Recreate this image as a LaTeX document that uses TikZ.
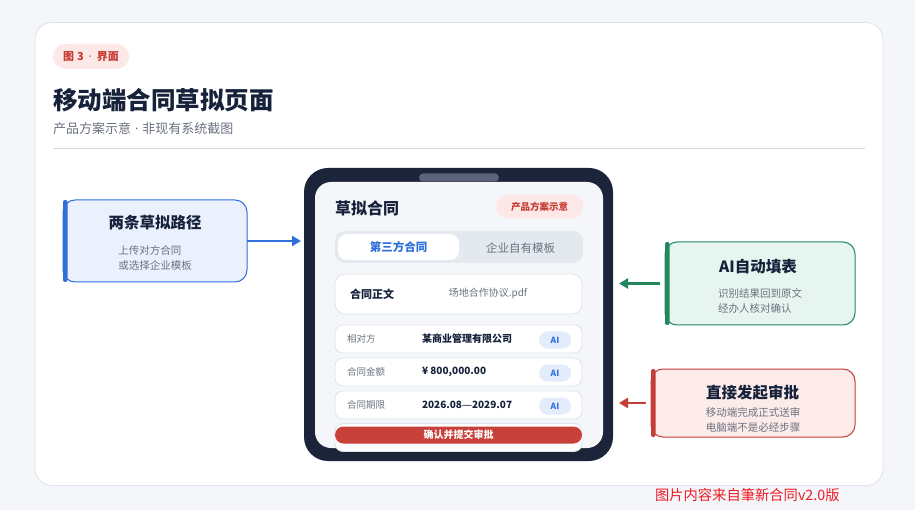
\documentclass[tikz,border=0pt]{standalone}
\usepackage{fontspec}
\setmainfont{Noto Sans CJK SC}
\newfontfamily\latinf{Noto Sans}
\usetikzlibrary{arrows.meta}
\definecolor{bgc}{HTML}{F4F6FA}
\definecolor{cardline}{HTML}{DDE3EC}
\definecolor{navy}{HTML}{16213A}
\definecolor{graytxt}{HTML}{6B7280}
\definecolor{tagfill}{HTML}{FCE8E6}
\definecolor{tagred}{HTML}{C73B32}
\definecolor{blueM}{HTML}{2F6FDB}
\definecolor{blueF}{HTML}{EAF1FD}
\definecolor{greenM}{HTML}{23875E}
\definecolor{greenF}{HTML}{E6F5EF}
\definecolor{redM}{HTML}{C43D37}
\definecolor{redF}{HTML}{FDEBEA}
\definecolor{phonec}{HTML}{1B2438}
\definecolor{screenc}{HTML}{F4F6FA}
\definecolor{notchc}{HTML}{5B6478}
\definecolor{tabbar}{HTML}{E4E8EF}
\definecolor{rowline}{HTML}{DFE4EC}
\definecolor{aifill}{HTML}{E3ECFA}
\definecolor{btnc}{HTML}{C8403A}
\definecolor{footred}{HTML}{EE1C25}
\definecolor{sepc}{HTML}{D5DBE4}
\newcommand\myfs[2]{\fontsize{#1pt}{#2pt}\selectfont}
\newcommand\mdot{{\latinf\textperiodcentered}}
\tikzset{
  plain/.style={inner sep=0pt, outer sep=0pt},
  shapebox/.style={rectangle, inner sep=0pt, outer sep=0pt},
  pill/.style={shapebox, fill=tagfill, text=tagred, font=\bfseries\myfs{9.5}{11}},
  rowcard/.style={shapebox, fill=white, draw=rowline, line width=0.8pt, rounded corners=8pt, minimum width=247pt, minimum height=28pt},
  rowlabel/.style={plain, anchor=west, text=graytxt, font=\myfs{9.5}{11}},
  rowvalue/.style={plain, anchor=west, text=navy, font=\bfseries\myfs{10}{12}},
  aipill/.style={shapebox, fill=aifill, text=blueM, rounded corners=8.5pt, minimum width=32pt, minimum height=17pt, font=\bfseries\myfs{8.5}{10}},
  sidebox/.style={shapebox, rounded corners=12pt, line width=1pt},
  sidetitle/.style={plain, text=navy, font=\bfseries\myfs{15.5}{18}},
  sidesub/.style={plain, text=graytxt, align=left, font=\myfs{10.5}{15}},
  conn/.style={line width=2.5pt, -{Triangle[length=9pt,width=10pt]}},
}
\begin{document}
\begin{tikzpicture}[x=1pt,y=-1pt]
\useasboundingbox (0,0) rectangle (915,510);
\fill[bgc] (0,0) rectangle (915,510);
% main card
\node[shapebox, fill=white, draw=cardline, line width=0.8pt, rounded corners=17pt, minimum width=848pt, minimum height=463pt] (card) at (459,254) {};
% tag
\node[pill, rounded corners=12.5pt, minimum width=76pt, minimum height=25pt, font=\bfseries\myfs{11}{12}] (tag) at (91,56.5) {图\hspace{3pt}3\hspace{5pt}\mdot\hspace{5pt}界面};
\node[plain, anchor=west, text=navy, font=\bfseries\myfs{24.5}{28}] (title) at (53,100) {移动端合同草拟页面};
\node[plain, anchor=west, text=graytxt, font=\myfs{13}{15}] (subtitle) at (53,129) {产品方案示意\hspace{4pt}\mdot\hspace{4pt}非现有系统截图};
\coordinate (sepL) at (53,148.5);
\coordinate (sepR) at (865,148.5);
\draw[sepc, line width=0.8pt] (sepL) -- (sepR);
% phone
\node[shapebox, fill=phonec, rounded corners=24pt, minimum width=309pt, minimum height=293pt] (phone) at (458.5,314.5) {};
\node[shapebox, fill=screenc, rounded corners=16pt, minimum width=288pt, minimum height=266pt] (screen) at (459,315) {};
\node[shapebox, fill=notchc, rounded corners=4pt, minimum width=80pt, minimum height=8pt] (notch) at (459,177.5) {};
\node[plain, anchor=west, text=navy, font=\bfseries\myfs{16}{18}] (scrtitle) at (335,208) {草拟合同};
\node[pill, rounded corners=12pt, minimum width=87pt, minimum height=24pt] (demo) at (539.5,206.5) {产品方案示意};
\node[shapebox, fill=tabbar, rounded corners=10pt, minimum width=248pt, minimum height=32pt] (tabs) at (459,247) {};
\node[shapebox, fill=white, rounded corners=9pt, minimum width=121pt, minimum height=26pt, text=blueM, font=\bfseries\myfs{11.5}{13}] (tabA) at (398.5,247) {第三方合同};
\node[plain, text=graytxt, font=\myfs{11.5}{13}] (tabB) at (520.5,248) {企业自有模板};
\node[shapebox, fill=white, draw=rowline, line width=0.8pt, rounded corners=10pt, minimum width=247pt, minimum height=40pt] (body) at (458.5,294) {};
\node[plain, anchor=west, text=navy, font=\bfseries\myfs{11}{13}] (bodylbl) at (350,294) {合同正文};
\node[plain, text=graytxt, font=\myfs{10}{12}] (bodyfile) at (488,293) {场地合作协议.pdf};
% rows
\node[rowcard] (row1) at (458.5,339) {};
\node[rowlabel] (l1) at (347,339) {相对方};
\node[rowvalue] (v1) at (422,339) {某商业管理有限公司};
\node[aipill] (ai1) at (555,340) {AI};
\node[rowcard] (row2) at (458.5,372) {};
\node[rowlabel] (l2) at (347,372) {合同金额};
\node[rowvalue] (v2) at (422,371.5) {¥ 800,000.00};
\node[aipill] (ai2) at (555,373) {AI};
\node[rowcard] (row3) at (458.5,405) {};
\node[rowlabel] (l3) at (347,405) {合同期限};
\node[rowvalue] (v3) at (422,404.5) {2026.08{\latinf —}2029.07};
\node[aipill] (ai3) at (555,406) {AI};
\node[rowcard] (row4) at (458.5,437.5) {};
\node[shapebox, fill=btnc, rounded corners=8.5pt, minimum width=247pt, minimum height=17pt, text=white, font=\bfseries\myfs{10}{12}] (btn) at (458.5,435) {确认并提交审批};
% left box
\node[sidebox, fill=blueF, draw=blueM, minimum width=184pt, minimum height=82pt] (leftbox) at (155,241) {};
\fill[blueM, rounded corners=2pt] (leftbox.north west) rectangle ([xshift=4.5pt]leftbox.south west);
\node[sidetitle] (lefttitle) at (155,223) {两条草拟路径};
\node[sidesub] (leftsub) at (155,257.5) {上传对方合同\\或选择企业模板};
% green box
\node[sidebox, fill=greenF, draw=greenM, minimum width=190pt, minimum height=83pt] (greenbox) at (760,283.5) {};
\fill[greenM, rounded corners=2pt] (greenbox.north west) rectangle ([xshift=4.5pt]greenbox.south west);
\node[sidetitle] (greentitle) at (758,267) {AI自动填表};
\node[sidesub] (greensub) at (760,300.5) {识别结果回到原文\\经办人核对确认};
% red box
\node[sidebox, fill=redF, draw=redM, minimum width=204pt, minimum height=68pt] (redbox) at (753,403) {};
\fill[redM, rounded corners=2pt] (redbox.north west) rectangle ([xshift=4.5pt]redbox.south west);
\node[sidetitle] (redtitle) at (752.5,393) {直接发起审批};
\node[sidesub] (redsub) at (753,419.5) {移动端完成正式送审\\电脑端不是必经步骤};
% connectors
\draw[conn, blueM, shorten >=3pt] (leftbox.east) -- (leftbox.east -| phone.west);
\draw[conn, greenM, shorten <=5pt, shorten >=6pt] (greenbox.west) -- (greenbox.west -| phone.east);
\draw[conn, redM, shorten <=5pt, shorten >=6pt] (redbox.west) -- (redbox.west -| phone.east);
% footer
\node[plain, anchor=west, text=footred, font=\myfs{14.3}{16}] (footer) at (655,495) {图片内容来自筆新合同v2.0版};
\end{tikzpicture}
\end{document}
